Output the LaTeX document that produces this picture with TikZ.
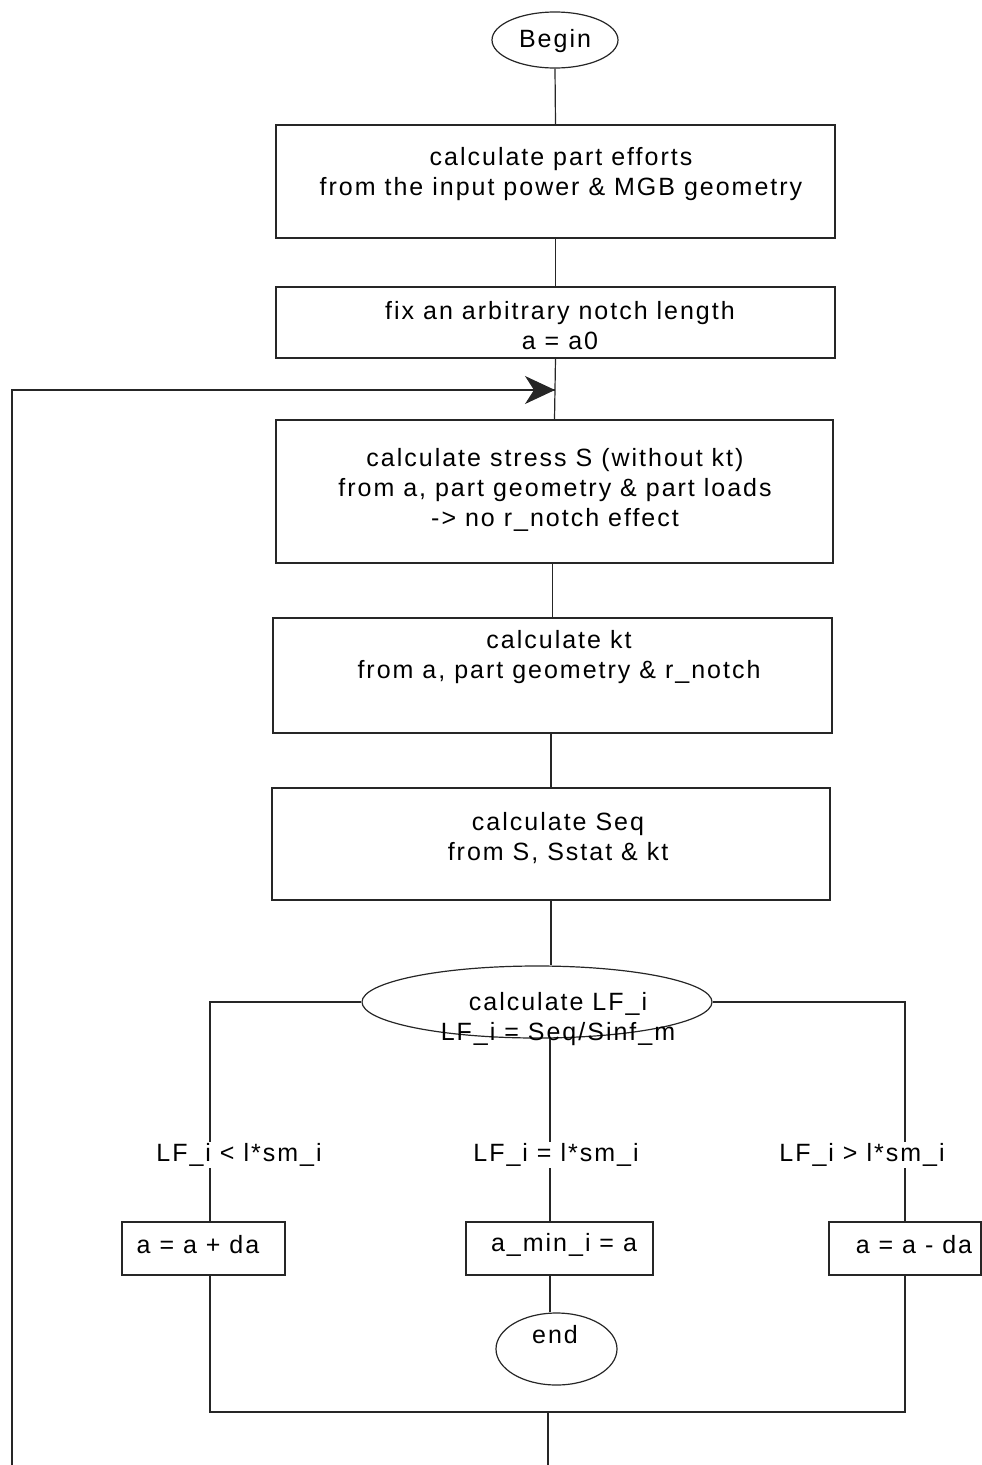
\documentclass[tikz,border=0pt]{standalone}
\usepackage{fontspec}
\setmainfont{Liberation Sans}[LetterSpace=8]
\usetikzlibrary{shapes.geometric,arrows.meta}
\begin{document}
\begin{tikzpicture}[x=1pt,y=-1pt,
  line/.style={draw=black!85,line width=1.2pt},
  proc/.style={line,rectangle,inner sep=0pt},
  term/.style={line,ellipse,inner sep=0pt},
  txt/.style={inner sep=0pt,font=\fontsize{25}{30}\selectfont,align=center},
  lbl/.style={fill=white,inner sep=1pt,font=\fontsize{25}{30}\selectfont}]
\useasboundingbox (0,0) rectangle (982,1465);
% shapes
\node[term,minimum width=126pt,minimum height=56pt] (begin) at (555,40) {};
\node[proc,minimum width=559pt,minimum height=113pt] (b1) at (555.5,181.5) {};
\node[proc,minimum width=559pt,minimum height=71pt] (b2) at (555.5,322.5) {};
\node[proc,minimum width=557pt,minimum height=143pt] (b3) at (554.5,491.5) {};
\node[proc,minimum width=559pt,minimum height=115pt] (b4) at (552.5,675.5) {};
\node[proc,minimum width=558pt,minimum height=112pt] (b5) at (551,844) {};
\node[term,minimum width=350pt,minimum height=72pt] (dec) at (537,1002) {};
\node[proc,minimum width=163pt,minimum height=53pt] (bl) at (203.5,1248.5) {};
\node[proc,minimum width=187pt,minimum height=53pt] (bc) at (559.5,1248.5) {};
\node[proc,minimum width=152pt,minimum height=53pt] (br) at (905,1248.5) {};
\node[term,minimum width=121pt,minimum height=72pt] (end) at (556.5,1349) {};
% texts
\node[txt] (t0) at (555,41) {Begin};
\node[txt] (t1) at (561,174.5) {calculate part efforts\\from the input power \& MGB geometry};
\node[txt] (t2) at (560,325.5) {fix an arbitrary notch length\\a = a0};
\node[txt] (t3) at (555,490) {calculate stress S (without kt)\\from a, part geometry \& part loads\\-> no r\_notch effect};
\node[txt] (t4) at (559,657) {calculate kt\\from a, part geometry \& r\_notch};
\node[txt] (t5) at (558,838) {calculate Seq\\from S, Sstat \& kt};
\node[txt] (t6) at (558,1019) {calculate LF\_i\\LF\_i = Seq/Sinf\_m};
\node[txt] (t7) at (198,1245) {a = a + da};
\node[txt] (t8) at (564,1245) {a\_min\_i = a};
\node[txt] (t9) at (914,1245) {a = a - da};
\node[txt] (t10) at (555,1335) {end};
% coordinates
\coordinate (entry) at (555,390);
\coordinate (jl) at (210,1002);
\coordinate (jr) at (905,1002);
\coordinate (ml) at (210,1412);
\coordinate (mr) at (905,1412);
\coordinate (mc) at (548,1412);
\coordinate (bot) at (548,1465);
\coordinate (lb) at (12,1465);
\coordinate (lt) at (12,390);
% vertical flow
\draw[line] (begin.south) -- (b1.north);
\draw[line] (b1.south) -- (b2.north);
\draw[line] (b2.south) -- (b3.north);
\draw[line] (b3.south -| b4.north) -- (b4.north);
\draw[line] (b4.south -| b5.north) -- (b5.north);
\draw[line] (b5.south) -- (b5.south |- dec.north);
% decision branches
\draw[line] (dec.west) -- (jl) -- (bl.north -| jl);
\draw[line] (dec.east) -- (jr) -- (br.north -| jr);
\draw[line] (dec.south -| 550,0) -- (bc.north -| 550,0);
\node[lbl] (ll) at (239,1155) {LF\_i < l*sm\_i};
\node[lbl] (lc) at (556,1155) {LF\_i = l*sm\_i};
\node[lbl] (lr) at (862,1155) {LF\_i > l*sm\_i};
% after boxes
\draw[line] (bl.south -| ml) -- (ml) -- (mr) -- (br.south -| mr);
\draw[line] (bc.south -| 550,0) -- (end.north -| 550,0);
\draw[line] (mc) -- (bot);
\draw[line] (lb) -- (lt) -- (entry);
\draw[line,-{Stealth[length=30pt,width=28pt,inset=9pt]}] (lt) -- (entry);
\end{tikzpicture}
\end{document}
